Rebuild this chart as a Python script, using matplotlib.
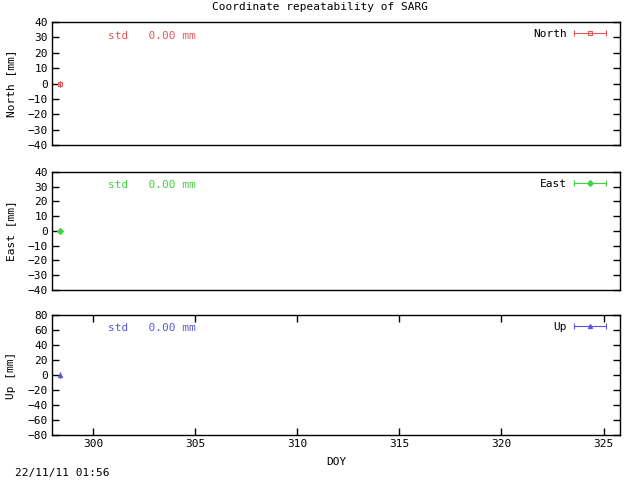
import matplotlib
matplotlib.use('Agg')
import matplotlib.pyplot as plt
from matplotlib.legend_handler import HandlerErrorbar
from matplotlib.container import ErrorbarContainer

plt.rcParams['font.family'] = ['DejaVu Sans Mono']
plt.rcParams['font.size'] = 8

# data
doy = [298.4]
north = [0.0]
east = [0.0]
up = [0.0]
std_vals = [0.00, 0.00, 0.00]
names = ['North', 'East', 'Up']
markers = ['s', 'D', '^']
colors = ['#e05858', '#40d040', '#5858d8']
ylims = [(-40, 40), (-40, 40), (-80, 80)]
ysteps = [10, 10, 20]
xticks = [300, 305, 310, 315, 320, 325]

fig = plt.figure(figsize=(6.4, 4.8), dpi=100)
rects = [[0.08125, 0.698, 0.8875, 0.256],
         [0.08125, 0.396, 0.8875, 0.246],
         [0.08125, 0.094, 0.8875, 0.25]]

series = [north, east, up]
for i in range(3):
    ax = fig.add_axes(rects[i])
    ax.errorbar(doy, series[i], xerr=[0.0], fmt=markers[i], color=colors[i],
                ms=3, mfc='none' if i == 0 else colors[i], mew=0.8,
                elinewidth=0.8, capsize=2.5, label=names[i])
    lo, hi = ylims[i]
    ax.set_ylim(lo, hi)
    ax.set_yticks(range(lo, hi + 1, ysteps[i]))
    ax.set_xlim(298.0, 325.8)
    ax.set_xticks(xticks)
    ax.tick_params(direction='in', length=5, width=1, right=True,
                   top=(i == 2), bottom=(i == 2), labelbottom=(i == 2),
                   labelsize=8, pad=3)
    ax.set_ylabel(names[i] + ' [mm]', fontsize=8, labelpad=8)
    ax.text(0.099, 0.89, 'std   %.2f mm' % std_vals[i], transform=ax.transAxes,
            color=colors[i], fontsize=8, va='center')
    ax.legend(loc='upper right', bbox_to_anchor=(0.988, 1.0), frameon=False,
              markerfirst=False, handlelength=3, fontsize=8, borderaxespad=0.2,
              handletextpad=0.6,
              handler_map={ErrorbarContainer: HandlerErrorbar(xerr_size=1.45)})
    for s in ax.spines.values():
        s.set_linewidth(1)
    if i == 2:
        ax.set_xlabel('DOY', fontsize=8, labelpad=6)

fig.suptitle('Coordinate repeatability of SARG', fontsize=8, y=0.995)
fig.text(15 / 640, 1 - 473 / 480, '22/11/11 01:56', fontsize=8, va='center')

fig.savefig('out.png', dpi=100)
